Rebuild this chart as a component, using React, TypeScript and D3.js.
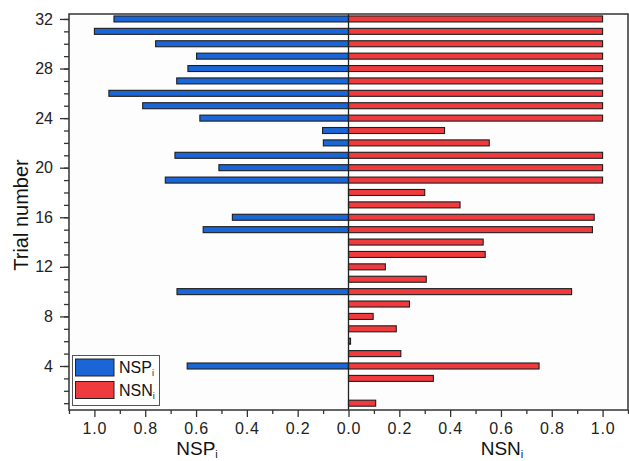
import React, { useRef, useEffect } from 'react';
import * as d3 from 'd3';

const trials = [1, 2, 3, 4, 5, 6, 7, 8, 9, 10, 11, 12, 13, 14, 15, 16, 17, 18, 19, 20, 21, 22, 23, 24, 25, 26, 27, 28, 29, 30, 31, 32];
const nspValues = [0, 0, 0, 0.635, 0, 0, 0, 0, 0, 0.675, 0, 0, 0, 0, 0.572, 0.457, 0, 0, 0.721, 0.51, 0.683, 0.099, 0.102, 0.585, 0.81, 0.943, 0.676, 0.632, 0.598, 0.759, 1.0, 0.923];
const nsnValues = [0.107, 0, 0.334, 0.75, 0.206, 0.008, 0.188, 0.097, 0.24, 0.878, 0.306, 0.145, 0.538, 0.53, 0.96, 0.967, 0.439, 0.3, 1, 1, 1, 0.554, 0.378, 1, 1, 1, 1, 1, 1, 1, 1, 1];
const yMajorTicks = [4, 8, 12, 16, 20, 24, 28, 32];
const xMajorTicks = [0, 0.2, 0.4, 0.6, 0.8, 1.0];
const xMinorTicks = [0.1, 0.3, 0.5, 0.7, 0.9, 1.1];

const WIDTH = 629;
const HEIGHT = 461;
const BLUE = '#1b66d6';
const RED = '#ef3b3e';
const FONT = '"Liberation Sans", Arial, sans-serif';

export default function App() {
  const svgRef = useRef<SVGSVGElement>(null);

  useEffect(() => {
    const svg = d3.select(svgRef.current);
    svg.selectAll('*').remove();

    const left = 69, right = 628, top = 14, bottom = 410;
    const center = (left + right) / 2;

    const xLeft = d3.scaleLinear().domain([0, 1.1]).range([center, left]);
    const xRight = d3.scaleLinear().domain([0, 1.1]).range([center, right]);
    const y = d3.scaleLinear().domain([0.45, 32.4]).range([bottom, top]);

    // plot background
    svg.append('rect')
      .attr('x', left).attr('y', top)
      .attr('width', right - left).attr('height', bottom - top)
      .attr('fill', '#fdfdfd');

    const barH = 6;

    // NSP bars (left)
    svg.append('g').selectAll('rect')
      .data(trials.filter((_, i) => nspValues[i] > 0))
      .enter()
      .append('rect')
      .attr('x', d => xLeft(nspValues[d - 1]))
      .attr('y', d => y(d) - barH / 2)
      .attr('width', d => center - xLeft(nspValues[d - 1]))
      .attr('height', barH)
      .attr('fill', BLUE)
      .attr('stroke', '#1e1e1e')
      .attr('stroke-width', 1.1);

    // NSN bars (right)
    svg.append('g').selectAll('rect')
      .data(trials.filter((_, i) => nsnValues[i] > 0))
      .enter()
      .append('rect')
      .attr('x', center)
      .attr('y', d => y(d) - barH / 2)
      .attr('width', d => Math.max(1.5, xRight(nsnValues[d - 1]) - center))
      .attr('height', barH)
      .attr('fill', RED)
      .attr('stroke', '#1e1e1e')
      .attr('stroke-width', 1.1);

    // center line
    svg.append('line')
      .attr('x1', center).attr('x2', center)
      .attr('y1', top).attr('y2', bottom)
      .attr('stroke', '#222').attr('stroke-width', 1.3);

    // frame
    svg.append('rect')
      .attr('x', left).attr('y', top)
      .attr('width', right - left).attr('height', bottom - top)
      .attr('fill', 'none')
      .attr('stroke', '#333').attr('stroke-width', 1.5);

    // y axis
    const yAxis = svg.append('g').attr('transform', `translate(${left},0)`);
    yAxis.call(d3.axisLeft(y).tickValues(trials).tickSize(5).tickFormat(() => ''));
    yAxis.append('g').call(d3.axisLeft(y).tickValues(yMajorTicks).tickSize(9).tickPadding(7).tickFormat(d3.format('d')));
    yAxis.selectAll('.domain').remove();
    yAxis.selectAll('line').attr('stroke', '#333').attr('stroke-width', 1.3);
    yAxis.selectAll('text')
      .attr('font-family', FONT).attr('font-size', 16).attr('fill', '#222');

    // x axes
    const fmt = d3.format('.1f');
    const xAxisG = svg.append('g').attr('transform', `translate(0,${bottom})`);
    xAxisG.append('g').call(d3.axisBottom(xLeft).tickValues(xMinorTicks).tickSize(4).tickFormat(() => ''));
    xAxisG.append('g').call(d3.axisBottom(xRight).tickValues(xMinorTicks).tickSize(4).tickFormat(() => ''));
    xAxisG.append('g').call(d3.axisBottom(xLeft).tickValues(xMajorTicks.slice(1)).tickSize(7).tickPadding(6).tickFormat(d => fmt(d as number)));
    xAxisG.append('g').call(d3.axisBottom(xRight).tickValues(xMajorTicks).tickSize(7).tickPadding(6).tickFormat(d => fmt(d as number)));
    xAxisG.selectAll('.domain').remove();
    xAxisG.selectAll('line').attr('stroke', '#333').attr('stroke-width', 1.3);
    xAxisG.selectAll('text')
      .attr('font-family', FONT).attr('font-size', 16).attr('letter-spacing', 0.8).attr('fill', '#222');

    // axis titles with subscript
    const subTitle = (x: number, yy: number, base: string) => {
      const t = svg.append('text')
        .attr('x', x).attr('y', yy)
        .attr('text-anchor', 'middle')
        .attr('font-family', FONT).attr('font-size', 19).attr('fill', '#111');
      t.append('tspan').text(base);
      t.append('tspan').attr('font-size', 11).attr('dy', 3).text('i');
      return t;
    };
    subTitle(197, 455, 'NSP');
    subTitle(502, 455, 'NSN');

    svg.append('text')
      .attr('transform', `translate(28,215) rotate(-90)`)
      .attr('text-anchor', 'middle')
      .attr('font-family', FONT).attr('font-size', 20).attr('fill', '#111')
      .text('Trial number');

    // legend
    const lg = svg.append('g');
    lg.append('rect')
      .attr('x', 72.5).attr('y', 355.5).attr('width', 87).attr('height', 50)
      .attr('fill', '#fff').attr('stroke', '#555').attr('stroke-width', 1);
    const items = [
      { color: BLUE, base: 'NSP' },
      { color: RED, base: 'NSN' },
    ];
    items.forEach((it, i) => {
      const yy = 359 + i * 22.5;
      lg.append('rect')
        .attr('x', 75.5).attr('y', yy).attr('width', 38.5).attr('height', 17)
        .attr('fill', it.color).attr('stroke', '#222').attr('stroke-width', 1);
      const t = lg.append('text')
        .attr('x', 119).attr('y', yy + 14)
        .attr('font-family', FONT).attr('font-size', 16).attr('fill', '#111');
      t.append('tspan').text(it.base);
      t.append('tspan').attr('font-size', 9).attr('dy', 3).text('i');
    });
  }, []);

  return (
    <svg
      ref={svgRef}
      width={WIDTH}
      height={HEIGHT}
      style={{ position: 'absolute', left: 0, top: 0, background: '#fff' }}
    />
  );
}
